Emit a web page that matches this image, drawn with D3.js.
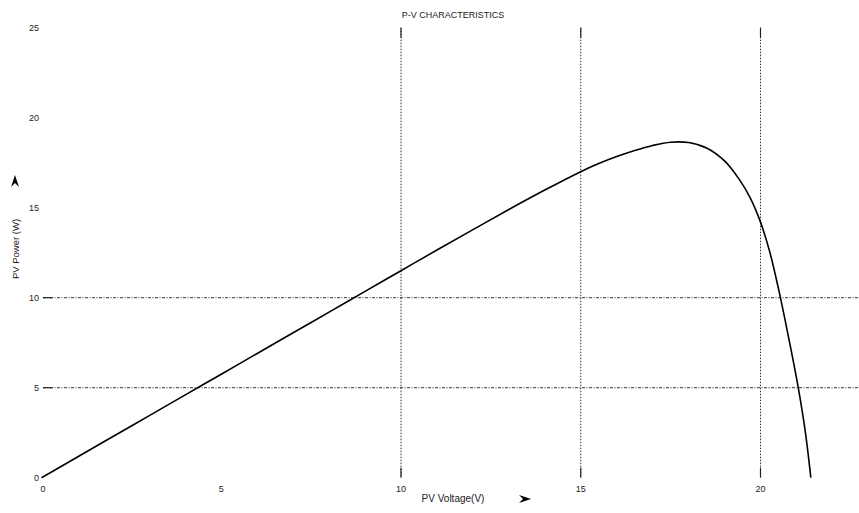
<!DOCTYPE html>
<html>
<head>
<meta charset="utf-8">
<script src="https://cdn.jsdelivr.net/npm/d3@7"></script>
<style>
  html, body { margin: 0; padding: 0; background: #fff; }
  svg { display: block; }
  text { font-family: "Liberation Sans", Arial, sans-serif; fill: #222; }
</style>
</head>
<body>
<svg id="chart" width="859" height="513"></svg>
<script>
// ---- data ----
const voltage = [0, 1, 2, 3, 4, 5, 6, 7, 8, 9, 10, 11, 12, 13, 14, 15, 15.5, 16, 16.5, 17, 17.5, 18, 18.5, 19, 19.4, 19.7, 20, 20.25, 20.5, 20.8, 21.05, 21.25, 21.4];
const power   = [0, 1.15, 2.3, 3.45, 4.6, 5.75, 6.9, 8.05, 9.2, 10.35, 11.5, 12.65, 13.78, 14.9, 15.98, 17.0, 17.45, 17.84, 18.18, 18.46, 18.64, 18.62, 18.32, 17.6, 16.6, 15.6, 14.2, 12.6, 10.5, 7.6, 5.0, 2.5, 0];
const xTicks = [0, 5, 10, 15, 20];
const yTicks = [0, 5, 10, 15, 20, 25];
const xGrid = [10, 15, 20];
const yGrid = [5, 10];
const title = "P-V CHARACTERISTICS";
const xLabel = "PV Voltage(V)";
const yLabel = "PV Power (W)";

// ---- chart ----
const svg = d3.select("#chart");
const x = d3.scaleLinear().domain([0, 20]).range([41.5, 760.5]);
const y = d3.scaleLinear().domain([0, 25]).range([477.7, 27.7]);

// vertical grid lines
const vg = svg.append("g");
xGrid.forEach(v => {
  vg.append("line").attr("x1", x(v)).attr("x2", x(v)).attr("y1", y(25)).attr("y2", y(0))
    .attr("stroke", "#333").attr("stroke-width", 1).attr("stroke-dasharray", "1.5,1.5");
  vg.append("line").attr("x1", x(v)).attr("x2", x(v)).attr("y1", y(25)).attr("y2", y(25) + 10)
    .attr("stroke", "#222").attr("stroke-width", 1.2);
  vg.append("line").attr("x1", x(v)).attr("x2", x(v)).attr("y1", y(0) - 10).attr("y2", y(0))
    .attr("stroke", "#222").attr("stroke-width", 1.2);
});
// horizontal grid lines
yGrid.forEach(v => {
  vg.append("line").attr("x1", x(0) + 1.5).attr("x2", 859).attr("y1", y(v)).attr("y2", y(v))
    .attr("stroke", "#333").attr("stroke-width", 1).attr("stroke-dasharray", "3,1.5,1,1.5");
  vg.append("line").attr("x1", x(0) + 1.5).attr("x2", x(0) + 11).attr("y1", y(v)).attr("y2", y(v))
    .attr("stroke", "#222").attr("stroke-width", 1.2);
});

// tick labels
svg.append("g").selectAll("text").data(yTicks).join("text")
  .attr("x", 39).attr("y", d => y(d) + 3.5).attr("text-anchor", "end")
  .attr("font-size", 9).text(d => d);
svg.append("g").selectAll("text").data(xTicks).join("text")
  .attr("x", d => x(d) + (d === 0 ? 1.5 : 0)).attr("y", d => y(0) + 14).attr("text-anchor", "middle")
  .attr("font-size", 9).text(d => d);

// curve
const pts = voltage.map((v, i) => [v, power[i]]);
const line = d3.line().x(d => x(d[0])).y(d => y(d[1])).curve(d3.curveCatmullRom.alpha(0.5));
svg.append("path").datum(pts).attr("d", line)
  .attr("fill", "none").attr("stroke", "#000").attr("stroke-width", 1.6);

// title and labels
svg.append("text").attr("x", 453).attr("y", 18).attr("text-anchor", "middle")
  .attr("font-size", 9).text(title);
svg.append("text").attr("x", 453).attr("y", 502).attr("text-anchor", "middle")
  .attr("font-size", 10).text(xLabel);
svg.append("text").attr("transform", "translate(19,249) rotate(-90)").attr("text-anchor", "middle")
  .attr("font-size", 9.5).text(yLabel);

// arrows
svg.append("path").attr("d", "M519,495 L531,499 L519,503 L523,499 Z").attr("fill", "#000");
svg.append("path").attr("d", "M11,187 L15,175 L19,187 L15,183 Z").attr("fill", "#000");
</script>
</body>
</html>
